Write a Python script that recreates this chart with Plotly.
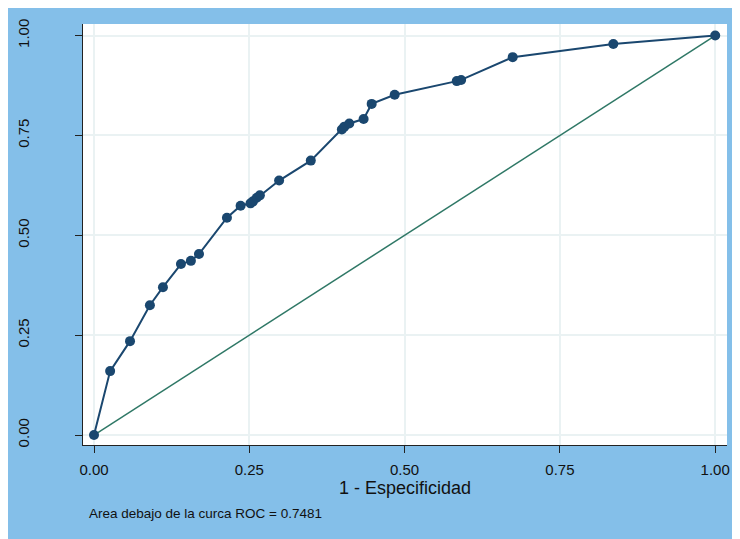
import plotly.graph_objects as go

# ROC curve points (1 - specificity, sensitivity)
fpr = [0.000, 0.026, 0.058, 0.090, 0.111, 0.140, 0.156, 0.169, 0.214, 0.236,
       0.252, 0.256, 0.262, 0.267, 0.298, 0.349, 0.399, 0.403, 0.411, 0.434,
       0.447, 0.484, 0.584, 0.591, 0.674, 0.836, 1.000]
tpr = [0.000, 0.160, 0.235, 0.325, 0.370, 0.428, 0.436, 0.453, 0.544, 0.574,
       0.580, 0.585, 0.594, 0.600, 0.637, 0.687, 0.765, 0.772, 0.780, 0.791,
       0.829, 0.852, 0.886, 0.889, 0.946, 0.979, 1.000]
ref_x = [0, 1]
ref_y = [0, 1]
tick_vals = [0, 0.25, 0.5, 0.75, 1.0]
tick_text = ["0.00", "0.25", "0.50", "0.75", "1.00"]
x_title = "1 - Especificidad"
note = "Area debajo de la curca ROC = 0.7481"

navy = "#1a476f"
green = "#2f7866"
bg_blue = "#84bfe9"
grid = "#eaf2f3"
narrow = "Liberation Sans Narrow, Arial Narrow, Liberation Sans, Arial, sans-serif"
sans = "Liberation Sans, Arial, sans-serif"

fig = go.Figure()
fig.add_trace(go.Scatter(x=ref_x, y=ref_y, mode="lines",
                         line=dict(color=green, width=1.5), showlegend=False,
                         hoverinfo="skip"))
fig.add_trace(go.Scatter(x=fpr, y=tpr, mode="lines+markers",
                         line=dict(color=navy, width=2),
                         marker=dict(color=navy, size=10),
                         showlegend=False))

fig.update_layout(
    width=748, height=539,
    margin=dict(l=75, r=29, t=16, b=102),
    paper_bgcolor=bg_blue,
    plot_bgcolor="white",
    font=dict(family=sans, color="#111111"),
    xaxis=dict(range=[-0.0177, 1.019], tickvals=tick_vals, ticktext=tick_text,
               showgrid=True, gridcolor=grid, gridwidth=1.5, zeroline=False,
               showline=True, linecolor="#222222", linewidth=1.3,
               ticks="outside", ticklen=7, tickcolor="#222222",
               ticklabelstandoff=4, automargin=False,
               tickfont=dict(size=15, family=narrow),
               title=dict(text=x_title, font=dict(size=18, family=narrow), standoff=2)),
    yaxis=dict(range=[-0.025, 1.029], tickvals=tick_vals, ticktext=tick_text,
               showgrid=True, gridcolor=grid, gridwidth=1.5, zeroline=False,
               showline=True, linecolor="#222222", linewidth=1.3,
               ticks="outside", ticklen=7, tickcolor="#222222",
               ticklabelstandoff=40, automargin=False,
               tickangle=-90, tickfont=dict(size=15, family=sans)),
    annotations=[
        dict(text=note, xref="paper", yref="paper",
             x=(87-83)/644, y=-(513-445)/421, xanchor="left", yanchor="middle",
             showarrow=False, font=dict(size=13.5, family=narrow, color="#111111")),
    ],
)

fig.write_html("out.html")
